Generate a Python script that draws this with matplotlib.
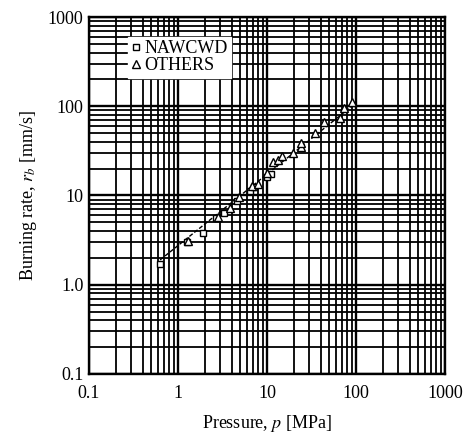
import numpy as np
import matplotlib
matplotlib.use("Agg")
import matplotlib.pyplot as plt
from matplotlib.ticker import FixedLocator, LogLocator, NullFormatter

plt.rcParams['font.family'] = ['Liberation Serif', 'DejaVu Serif']
plt.rcParams['mathtext.fontset'] = 'stix'

# NAWCWD data (pressure MPa, burning rate mm/s)
nawcwd_p = [0.63, 1.25, 1.9, 2.7, 3.3, 4.6, 6.4, 7.2, 10.0, 11.0]
nawcwd_r = [1.7, 3.0, 3.8, 5.6, 6.4, 8.6, 11.2, 12.5, 16.0, 17.5]

# OTHERS data
others_p = [1.3, 2.8, 3.8, 4.8, 6.8, 8.0, 10.0, 11.7, 13.3, 14.8, 19.6, 24.0, 24.0, 34.6, 43.6, 66.0, 73.0, 90.0]
others_r = [3.1, 5.8, 7.2, 9.5, 12.8, 13.5, 18.0, 23.7, 25.0, 27.7, 30.0, 35.0, 38.7, 50.0, 66.7, 74.0, 96.0, 112.0]

# trend line end points
line_p = [0.63, 95.0]
line_r = [1.9, 105.0]

x_ticks = [0.1, 1, 10, 100, 1000]
x_labels = ['0.1', '1', '10', '100', '1000']
y_ticks = [0.1, 1, 10, 100, 1000]
y_labels = ['0.1', '1.0', '10', '100', '1000']

fig = plt.figure(figsize=(4.67, 4.33), dpi=100)
ax = fig.add_axes([0.1906, 0.1363, 0.7623, 0.8244])
ax.set_xscale('log')
ax.set_yscale('log')
ax.set_xlim(0.1, 1000)
ax.set_ylim(0.1, 1000)

ax.xaxis.set_major_locator(FixedLocator(x_ticks))
ax.yaxis.set_major_locator(FixedLocator(y_ticks))
ax.xaxis.set_minor_locator(LogLocator(base=10, subs=np.arange(2, 10)))
ax.yaxis.set_minor_locator(LogLocator(base=10, subs=np.arange(2, 10)))
ax.xaxis.set_minor_formatter(NullFormatter())
ax.yaxis.set_minor_formatter(NullFormatter())
ax.set_xticklabels(x_labels)
ax.set_yticklabels(y_labels)
ax.tick_params(which='both', length=0, labelsize=13)
ax.tick_params(axis='x', pad=8)
ax.tick_params(axis='y', pad=4)

ax.grid(True, which='major', color='black', linewidth=1.7)
ax.grid(True, which='minor', color='black', linewidth=1.3)
ax.set_axisbelow(True)
for s in ax.spines.values():
    s.set_linewidth(1.7)

ax.plot(line_p, line_r, color='black', linewidth=1.0, linestyle=(0, (3, 1.5)), zorder=3)
ax.plot(nawcwd_p, nawcwd_r, linestyle='none', marker='s', markersize=5,
        markerfacecolor='white', markeredgecolor='black', markeredgewidth=1.0,
        label='NAWCWD', zorder=4)
ax.plot(others_p, others_r, linestyle='none', marker='^', markersize=6,
        markerfacecolor='white', markeredgecolor='black', markeredgewidth=1.0,
        label='OTHERS', zorder=4)

leg = ax.legend(loc='upper left', bbox_to_anchor=(0.11, 0.945), fontsize=13,
                frameon=True, fancybox=False, framealpha=1, edgecolor='white',
                handlelength=0.5, handletextpad=0.2, borderpad=0.2,
                labelspacing=0.0, borderaxespad=0)
leg.set_zorder(5)

ax.set_xlabel('Pressure, $p$ [MPa]', fontsize=13, labelpad=8)
ax.set_ylabel('Burning rate, $r_b$ [mm/s]', fontsize=13, labelpad=6)

fig.savefig('out.png', dpi=100)
